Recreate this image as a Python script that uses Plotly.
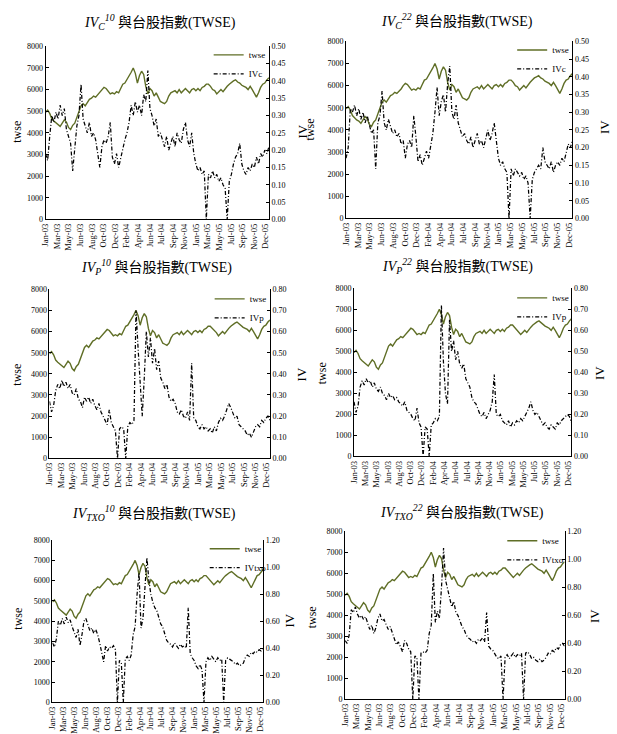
import plotly.graph_objects as go

W, H = 617, 734

# ---------------- data (3 readings per month, Jan-2003 .. Dec-2005) ----------------
twse = [
    4950, 5050, 4900, 4650, 4550, 4450, 4400, 4300, 4450, 4600, 4500, 4250,
    4150, 4350, 4450, 4750, 5000, 5250, 5350, 5250, 5400, 5550, 5600, 5700,
    5650, 5750, 5850, 6000, 6100, 6050, 5900, 5800, 5850, 5800, 5900, 5850,
    6050, 6250, 6300, 6450, 6650, 6800, 7000, 6750, 6300, 6650, 6850, 6700,
    6150, 5800, 6050, 5950, 5700, 5850, 5650, 5450, 5400, 5350, 5450, 5700,
    5850, 5900, 5950, 5850, 6000, 5850, 5950, 6050, 5950, 5850, 6000, 6050,
    5950, 6050, 5950, 6100, 6150, 6250, 6250, 6150, 6000, 5950, 5800, 5900,
    6000, 5900, 6050, 6150, 6250, 6350, 6400, 6450, 6350, 6300, 6200, 6150,
    6100, 6000, 6150, 6000, 5850, 5650, 5850, 6100, 6250, 6300, 6450, 6550,
]

iv_c10 = [
    0.19, 0.17, 0.24, 0.30, 0.28, 0.31, 0.29, 0.33, 0.30, 0.32, 0.26, 0.24,
    0.22, 0.14, 0.20, 0.27, 0.30, 0.39, 0.29, 0.27, 0.25, 0.28, 0.24, 0.25,
    0.23, 0.19, 0.15, 0.21, 0.23, 0.22, 0.24, 0.28, 0.18, 0.16, 0.19, 0.15,
    0.18, 0.20, 0.23, 0.25, 0.28, 0.33, 0.30, 0.34, 0.31, 0.33, 0.30, 0.36,
    0.34, 0.43, 0.32, 0.30, 0.27, 0.29, 0.24, 0.25, 0.23, 0.21, 0.24, 0.20,
    0.22, 0.24, 0.21, 0.25, 0.23, 0.22, 0.26, 0.28, 0.23, 0.21, 0.25, 0.19,
    0.16, 0.14, 0.15, 0.13, 0.14, 0.00, 0.13, 0.12, 0.14, 0.12, 0.13, 0.11,
    0.12, 0.10, 0.09, 0.00, 0.11, 0.13, 0.16, 0.18, 0.19, 0.22, 0.16, 0.14,
    0.13, 0.15, 0.14, 0.16, 0.15, 0.18, 0.16, 0.19, 0.18, 0.20, 0.19, 0.21,
]

iv_c22 = [
    0.17, 0.20, 0.31, 0.30, 0.32, 0.29, 0.31, 0.28, 0.30, 0.27, 0.29, 0.26,
    0.24, 0.25, 0.14, 0.27, 0.29, 0.36, 0.27, 0.25, 0.28, 0.26, 0.24, 0.25,
    0.23, 0.24, 0.21, 0.22, 0.17, 0.21, 0.22, 0.20, 0.29, 0.23, 0.16, 0.18,
    0.15, 0.17, 0.19, 0.17, 0.21, 0.24, 0.30, 0.37, 0.29, 0.33, 0.35, 0.30,
    0.38, 0.43, 0.30, 0.28, 0.32, 0.27, 0.25, 0.23, 0.24, 0.22, 0.21, 0.23,
    0.20, 0.22, 0.24, 0.21, 0.22, 0.20, 0.23, 0.25, 0.22, 0.24, 0.27, 0.21,
    0.17, 0.15, 0.16, 0.14, 0.13, 0.00, 0.14, 0.12, 0.14, 0.13, 0.12, 0.13,
    0.11, 0.12, 0.10, 0.00, 0.11, 0.13, 0.14, 0.15, 0.14, 0.20, 0.16, 0.15,
    0.14, 0.16, 0.13, 0.15, 0.16, 0.15, 0.17, 0.16, 0.19, 0.21, 0.20, 0.22,
]

iv_p10 = [
    0.27, 0.22, 0.25, 0.32, 0.35, 0.33, 0.37, 0.34, 0.36, 0.33, 0.35, 0.31,
    0.30, 0.33, 0.28, 0.27, 0.24, 0.29, 0.27, 0.29, 0.26, 0.28, 0.25, 0.23,
    0.26, 0.22, 0.20, 0.18, 0.16, 0.23, 0.17, 0.15, 0.13, 0.00, 0.14, 0.15,
    0.14, 0.00, 0.15, 0.17, 0.16, 0.18, 0.70, 0.52, 0.35, 0.20, 0.38, 0.60,
    0.48, 0.57, 0.45, 0.52, 0.42, 0.46, 0.38, 0.36, 0.33, 0.35, 0.29, 0.27,
    0.28, 0.26, 0.22, 0.21, 0.23, 0.20, 0.19, 0.22, 0.18, 0.45, 0.19, 0.18,
    0.15, 0.14, 0.16, 0.14, 0.15, 0.13, 0.14, 0.12, 0.15, 0.13, 0.17, 0.19,
    0.18, 0.20, 0.23, 0.26, 0.24, 0.21, 0.19, 0.20, 0.16, 0.15, 0.14, 0.13,
    0.11, 0.12, 0.10, 0.13, 0.15, 0.16, 0.15, 0.18, 0.17, 0.19, 0.20, 0.18,
]

iv_p22 = [
    0.26, 0.21, 0.24, 0.33, 0.36, 0.34, 0.37, 0.35, 0.36, 0.33, 0.35, 0.32,
    0.31, 0.33, 0.30, 0.29, 0.27, 0.30, 0.28, 0.29, 0.27, 0.28, 0.26, 0.25,
    0.24, 0.26, 0.22, 0.21, 0.20, 0.18, 0.17, 0.23, 0.16, 0.14, 0.00, 0.14,
    0.13, 0.00, 0.15, 0.16, 0.18, 0.17, 0.19, 0.72, 0.45, 0.30, 0.25, 0.65,
    0.50, 0.55, 0.46, 0.50, 0.44, 0.42, 0.44, 0.37, 0.35, 0.33, 0.28, 0.26,
    0.25, 0.22, 0.20, 0.19, 0.21, 0.18, 0.20, 0.22, 0.26, 0.39, 0.20, 0.19,
    0.20, 0.17, 0.16, 0.15, 0.17, 0.14, 0.16, 0.15, 0.17, 0.16, 0.18, 0.17,
    0.19, 0.21, 0.23, 0.26, 0.22, 0.20, 0.21, 0.19, 0.17, 0.15, 0.16, 0.14,
    0.13, 0.15, 0.14, 0.13, 0.16, 0.15, 0.17, 0.18, 0.19, 0.20, 0.19, 0.16,
]

iv_txo10 = [
    0.44, 0.41, 0.47, 0.60, 0.57, 0.62, 0.58, 0.63, 0.59, 0.61, 0.56, 0.52,
    0.48, 0.54, 0.42, 0.50, 0.60, 0.62, 0.57, 0.53, 0.55, 0.51, 0.54, 0.50,
    0.44, 0.38, 0.30, 0.42, 0.38, 0.41, 0.40, 0.42, 0.39, 0.00, 0.31, 0.29,
    0.00, 0.32, 0.34, 0.31, 0.35, 0.50, 0.56, 0.80, 0.96, 0.55, 0.62, 0.85,
    1.07, 0.90, 0.80, 0.74, 0.70, 0.68, 0.62, 0.58, 0.56, 0.50, 0.46, 0.44,
    0.43, 0.41, 0.44, 0.42, 0.40, 0.43, 0.41, 0.42, 0.40, 0.70, 0.36, 0.33,
    0.31, 0.27, 0.25, 0.28, 0.24, 0.00, 0.30, 0.33, 0.31, 0.34, 0.32, 0.30,
    0.33, 0.31, 0.32, 0.00, 0.31, 0.33, 0.32, 0.31, 0.30, 0.28, 0.29, 0.27,
    0.28, 0.29, 0.33, 0.35, 0.34, 0.37, 0.36, 0.38, 0.37, 0.39, 0.38, 0.40,
]

iv_txo22 = [
    0.42, 0.40, 0.46, 0.64, 0.62, 0.66, 0.61, 0.58, 0.60, 0.57, 0.59, 0.55,
    0.50, 0.53, 0.47, 0.51, 0.58, 0.61, 0.56, 0.57, 0.53, 0.50, 0.52, 0.48,
    0.44, 0.39, 0.41, 0.37, 0.34, 0.42, 0.40, 0.36, 0.34, 0.00, 0.31, 0.30,
    0.00, 0.33, 0.34, 0.33, 0.35, 0.47, 0.53, 0.90, 0.55, 0.63, 0.58, 0.80,
    1.08, 0.85, 0.78, 0.72, 0.66, 0.70, 0.62, 0.60, 0.56, 0.52, 0.50, 0.46,
    0.44, 0.43, 0.41, 0.42, 0.40, 0.43, 0.42, 0.44, 0.41, 0.62, 0.38, 0.36,
    0.35, 0.32, 0.30, 0.29, 0.31, 0.00, 0.30, 0.32, 0.29, 0.31, 0.33, 0.30,
    0.32, 0.31, 0.33, 0.00, 0.33, 0.34, 0.32, 0.29, 0.30, 0.28, 0.27, 0.29,
    0.27, 0.28, 0.30, 0.33, 0.32, 0.35, 0.34, 0.37, 0.36, 0.39, 0.40, 0.38,
]

x_tick_labels = ["Jan-03", "Mar-03", "May-03", "Jun-03", "Aug-03", "Oct-03", "Dec-03",
                 "Feb-04", "Apr-04", "Jun-04", "Jul-04", "Sep-04", "Nov-04", "Jan-05",
                 "Mar-05", "May-05", "Jul-05", "Sep-05", "Nov-05", "Dec-05"]

panel_titles = [
    "<i>IV<sub>C</sub><sup>10</sup></i> 與台股指數(TWSE)",
    "<i>IV<sub>C</sub><sup>22</sup></i> 與台股指數(TWSE)",
    "<i>IV<sub>P</sub><sup>10</sup></i> 與台股指數(TWSE)",
    "<i>IV<sub>P</sub><sup>22</sup></i> 與台股指數(TWSE)",
    "<i>IV<sub>TXO</sub><sup>10</sup></i> 與台股指數(TWSE)",
    "<i>IV<sub>TXO</sub><sup>22</sup></i> 與台股指數(TWSE)",
]
iv_names = ["IVc", "IVc", "IVp", "IVp", "IVtxo", "IVtxo"]
iv_series = [iv_c10, iv_c22, iv_p10, iv_p22, iv_txo10, iv_txo22]
iv_max = [0.50, 0.50, 0.80, 0.80, 1.20, 1.20]
iv_step = [0.05, 0.05, 0.10, 0.10, 0.20, 0.20]

for s in [twse] + iv_series:
    assert len(s) == 108, len(s)

# ---------------- layout geometry (pixels) ----------------
boxes = [
    (41, 267, 43, 219), (345, 574, 38, 218),
    (45, 268, 290, 462), (353, 573, 289, 460),
    (48, 261, 545, 710), (344, 566, 536, 707),
]
title_pos = [(157, 18), (457, 17), (153, 267), (458, 266), (151, 517), (462, 516)]
twse_title_pos = [(12, 130), (308, 128), (12, 377), (320, 375), (13, 625), (310, 623)]
iv_title_pos = [(301, 130), (607, 125), (300, 377), (602, 375), (288, 627), (597, 622)]
legend_pos = [(206, 37), (513, 32), (207, 285), (513, 284), (202, 539), (503, 531)]

SERIF = "Liberation Serif, Times New Roman, Noto Sans CJK TC, serif"
BLACK = "#000000"
N = len(twse)
xs = list(range(N))
tickvals = [i * 0.985 / 19 * (N - 1) for i in range(len(x_tick_labels))]

fig = go.Figure()
layout = dict(
    template="simple_white",
    width=W, height=H, autosize=False,
    margin=dict(l=0, r=0, t=0, b=0),
    paper_bgcolor="white", plot_bgcolor="white",
    font=dict(family=SERIF, color=BLACK, size=9),
    annotations=[],
)

for k in range(6):
    l, r, t, b = boxes[k]
    xa = "x" if k == 0 else f"x{k+1}"
    yl_i, yr_i = 2 * k + 1, 2 * k + 2
    yl = "y" if yl_i == 1 else f"y{yl_i}"
    yr = f"y{yr_i}"
    leg = "legend" if k == 0 else f"legend{k+1}"

    fig.add_trace(go.Scatter(
        x=xs, y=twse, mode="lines", name="twse",
        line=dict(color="#5f6e26", width=1.4),
        xaxis=xa, yaxis=yl, legend=leg))
    fig.add_trace(go.Scatter(
        x=xs, y=iv_series[k], mode="lines", name=iv_names[k],
        line=dict(color="black", width=1.25, dash="4px,2px,1px,2px"),
        xaxis=xa, yaxis=yr, legend=leg))

    xkey = "xaxis" if k == 0 else f"xaxis{k+1}"
    layout[xkey] = dict(
        domain=[l / W, r / W], anchor=yl, range=[0, N - 1],
        tickmode="array", tickvals=tickvals, ticktext=x_tick_labels,
        tickangle=-90, tickfont=dict(size=8.5, family=SERIF, color=BLACK),
        showline=True, linecolor=BLACK, linewidth=1, mirror=False,
        showgrid=False, zeroline=False, ticks="")
    ylkey = "yaxis" if yl_i == 1 else f"yaxis{yl_i}"
    layout[ylkey] = dict(
        domain=[1 - b / H, 1 - t / H], anchor=xa, range=[0, 8000], dtick=1000,
        tick0=0, tickfont=dict(size=8, family=SERIF, color=BLACK),
        showline=True, linecolor=BLACK, linewidth=1, mirror=False,
        ticks="inside", ticklen=3, tickcolor=BLACK,
        showgrid=False, zeroline=False)
    layout[f"yaxis{yr_i}"] = dict(
        overlaying=yl, side="right", anchor=xa,
        range=[0, iv_max[k]], dtick=iv_step[k], tick0=0, tickformat=".2f",
        tickfont=dict(size=8, family=SERIF, color=BLACK),
        showline=True, linecolor=BLACK, linewidth=1, mirror=False,
        ticks="inside", ticklen=3, tickcolor=BLACK,
        showgrid=False, zeroline=False)

    lx, ly = legend_pos[k]
    layout[leg] = dict(
        x=lx / W, y=1 - ly / H, xanchor="left", yanchor="top",
        bgcolor="rgba(0,0,0,0)", borderwidth=0,
        font=dict(size=9, family=SERIF, color=BLACK), itemwidth=30)

    tx, ty = title_pos[k]
    layout["annotations"].append(dict(
        text=panel_titles[k], x=tx / W, y=1 - ty / H, xref="paper", yref="paper",
        xanchor="center", yanchor="middle", showarrow=False,
        font=dict(size=14, family=SERIF, color=BLACK)))
    ax_, ay_ = twse_title_pos[k]
    layout["annotations"].append(dict(
        text="twse", x=ax_ / W, y=1 - ay_ / H, xref="paper", yref="paper",
        xanchor="center", yanchor="middle", showarrow=False, textangle=-90,
        font=dict(size=12, family=SERIF, color=BLACK)))
    bx, by = iv_title_pos[k]
    layout["annotations"].append(dict(
        text="IV", x=bx / W, y=1 - by / H, xref="paper", yref="paper",
        xanchor="center", yanchor="middle", showarrow=False, textangle=-90,
        font=dict(size=13, family=SERIF, color=BLACK)))

fig.update_layout(**layout)
fig.write_html("out.html")
